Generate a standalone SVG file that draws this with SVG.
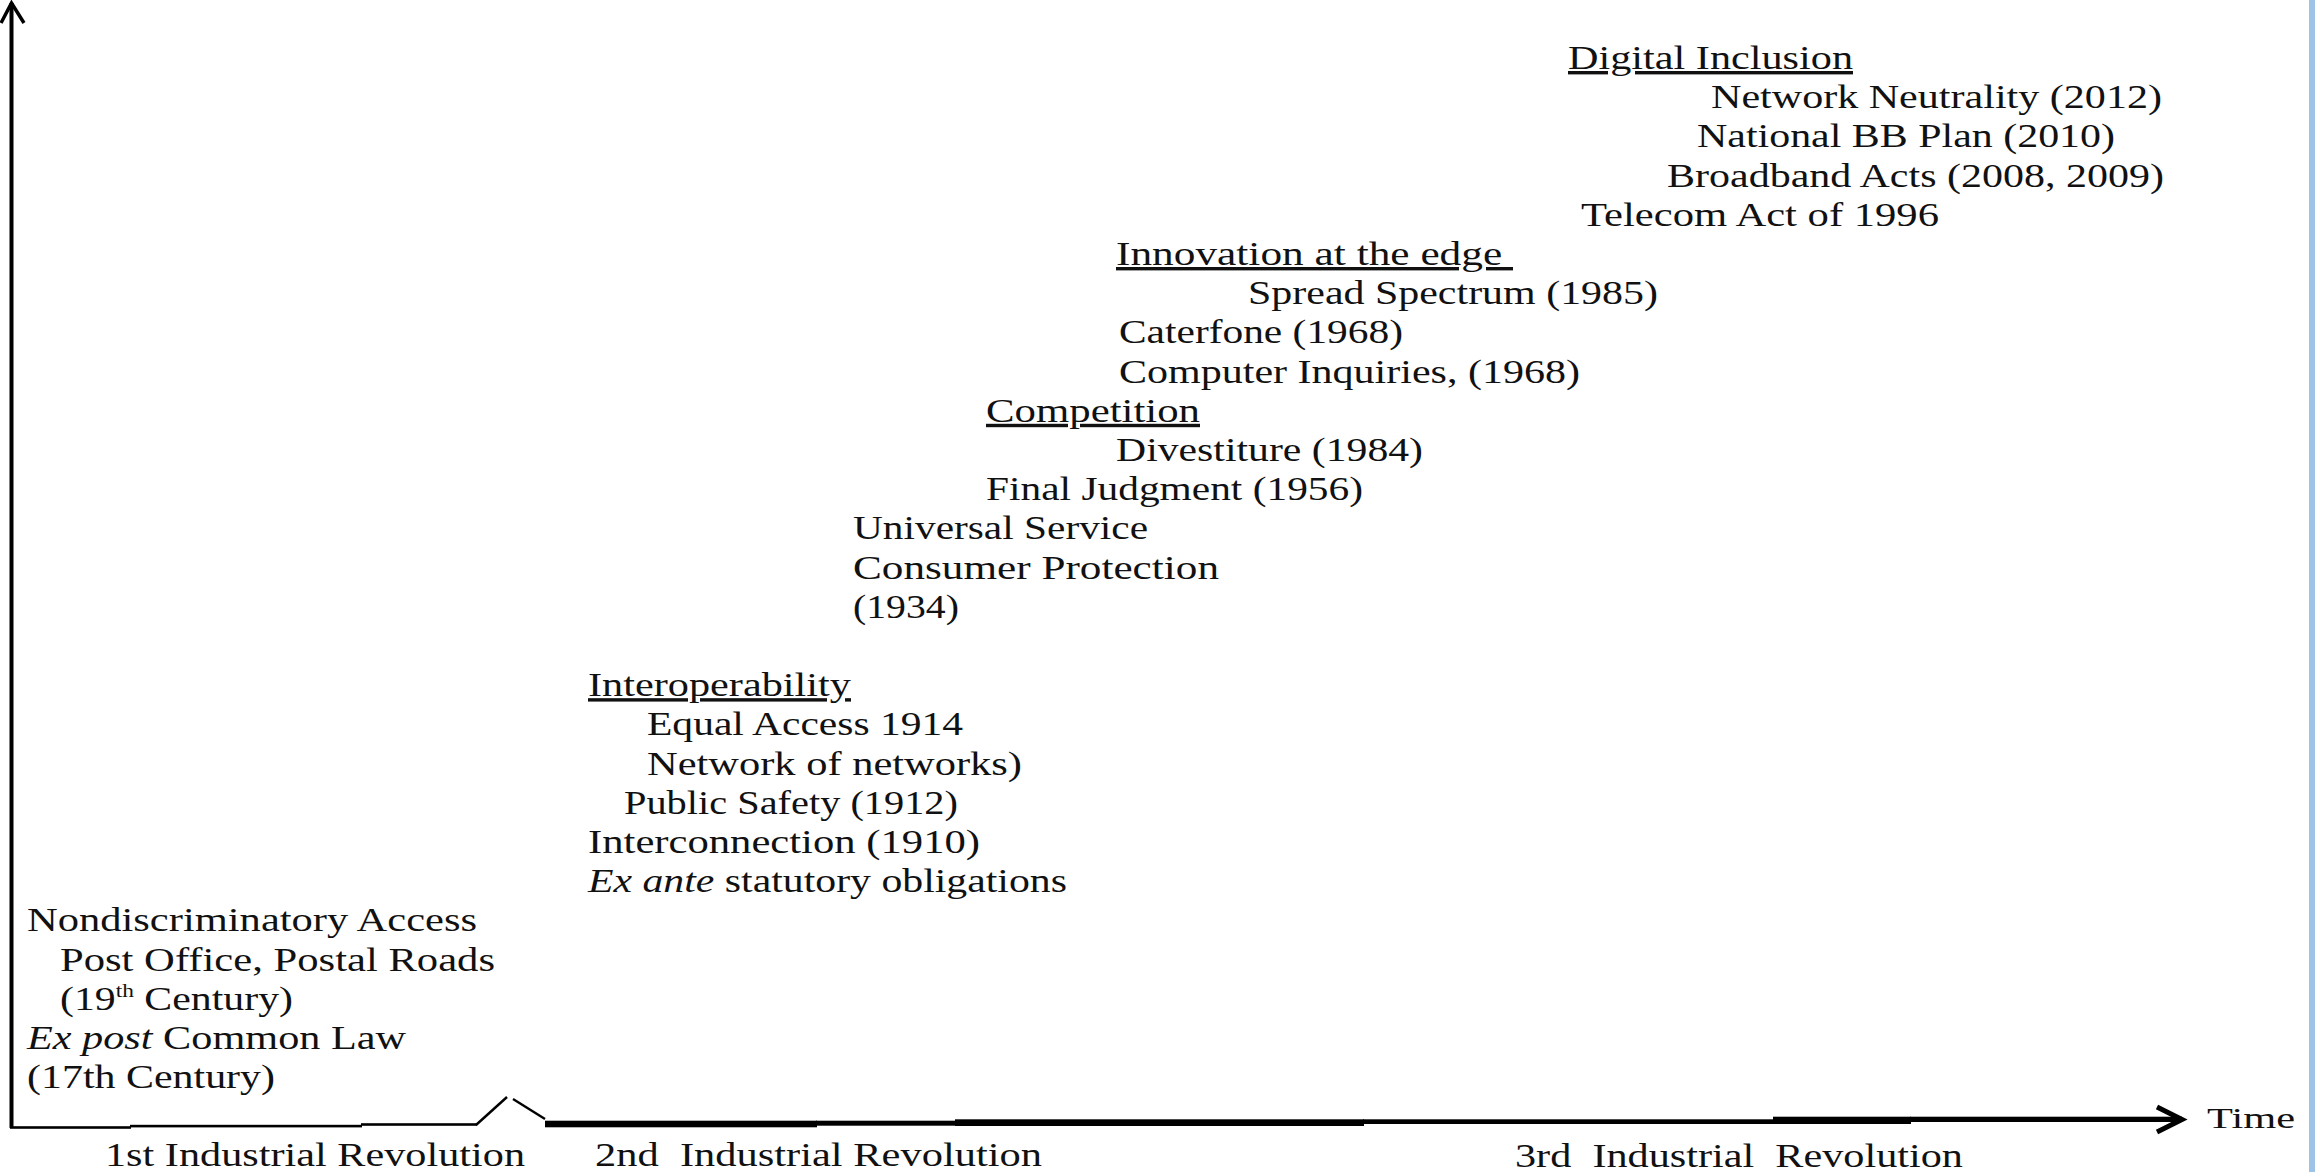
<svg xmlns="http://www.w3.org/2000/svg" width="2315" height="1172" viewBox="0 0 2315 1172">
  <style>
    .t { font-family: "Liberation Serif", "Times New Roman", serif; font-size: 34px; fill: #111; white-space: pre; }
    .s { font-size: 30px; }
    .u { text-decoration: underline; }
    .i { font-style: italic; }
    .sup { font-size: 19px; }
    .ax { fill: #000; }
    .axl { fill: none; stroke: #000; stroke-linecap: butt; stroke-linejoin: miter; }
  </style>

  <rect x="0" y="0" width="2315" height="1172" fill="#fff"/>
  <!-- slide edge band -->
  <rect x="2309" y="0" width="6" height="1172" fill="#9dc3e6"/>

  <!-- axes -->
  <g id="connectors">
    <!-- vertical axis with open arrowhead -->
    <line class="axl" x1="11.5" y1="1128" x2="11.5" y2="3" stroke-width="4"/>
    <polyline class="axl" points="1,23 11.5,3 24,23" stroke-width="3.5"/>
    <!-- horizontal time axis, drawn in stepped strokes -->
    <rect class="ax" x="10" y="1126.2" width="121" height="2.6"/>
    <rect class="ax" x="130" y="1124.8" width="232" height="2.6"/>
    <rect class="ax" x="361" y="1123.2" width="116" height="2.6"/>
    <polyline class="axl" points="476,1125 507,1097" stroke-width="2.4"/>
    <polyline class="axl" points="513,1099 545,1119" stroke-width="2.4"/>
    <rect class="ax" x="545" y="1120.7" width="272" height="6.6"/>
    <rect class="ax" x="816" y="1120.7" width="140" height="5"/>
    <rect class="ax" x="955" y="1119.3" width="409" height="6.7"/>
    <rect class="ax" x="1363" y="1119.3" width="411" height="4.7"/>
    <rect class="ax" x="1773" y="1116.7" width="138" height="7.3"/>
    <rect class="ax" x="1910" y="1116.7" width="272" height="5.3"/>
    <polyline class="axl" points="2157,1107 2182,1119.5 2157,1132" stroke-width="5"/>
  </g>

  <g id="era-digital-inclusion">
    <text class="t u" x="1568" y="69" textLength="285" lengthAdjust="spacingAndGlyphs">Digital Inclusion</text>
    <text class="t" x="1711" y="108.2" textLength="451" lengthAdjust="spacingAndGlyphs">Network Neutrality (2012)</text>
    <text class="t" x="1697" y="147.4" textLength="418" lengthAdjust="spacingAndGlyphs">National BB Plan (2010)</text>
    <text class="t" x="1667" y="186.6" textLength="497" lengthAdjust="spacingAndGlyphs">Broadband Acts (2008, 2009)</text>
    <text class="t" x="1581" y="225.8" textLength="358" lengthAdjust="spacingAndGlyphs">Telecom Act of 1996</text>
  </g>

  <g id="era-innovation">
    <text class="t u" x="1116" y="265" textLength="397" lengthAdjust="spacingAndGlyphs">Innovation at the edge </text>
    <text class="t" x="1248" y="304.2" textLength="410" lengthAdjust="spacingAndGlyphs">Spread Spectrum (1985)</text>
    <text class="t" x="1119" y="343.4" textLength="284" lengthAdjust="spacingAndGlyphs">Caterfone (1968)</text>
    <text class="t" x="1119" y="382.6" textLength="461" lengthAdjust="spacingAndGlyphs">Computer Inquiries, (1968)</text>
  </g>

  <g id="era-competition">
    <text class="t u" x="986" y="421.8" textLength="214" lengthAdjust="spacingAndGlyphs">Competition</text>
    <text class="t" x="1116" y="461" textLength="307" lengthAdjust="spacingAndGlyphs">Divestiture (1984)</text>
    <text class="t" x="986" y="500.2" textLength="377" lengthAdjust="spacingAndGlyphs">Final Judgment (1956)</text>
  </g>

  <g id="era-universal-service">
    <text class="t" x="853" y="539.4" textLength="295" lengthAdjust="spacingAndGlyphs">Universal Service</text>
    <text class="t" x="853" y="578.6" textLength="366" lengthAdjust="spacingAndGlyphs">Consumer Protection</text>
    <text class="t" x="853" y="617.8" textLength="106" lengthAdjust="spacingAndGlyphs">(1934)</text>
  </g>

  <g id="era-interoperability">
    <text class="t u" x="588" y="696.2" textLength="263" lengthAdjust="spacingAndGlyphs">Interoperability</text>
    <text class="t" x="647" y="735.4" textLength="316" lengthAdjust="spacingAndGlyphs">Equal Access 1914</text>
    <text class="t" x="647" y="774.6" textLength="375" lengthAdjust="spacingAndGlyphs">Network of networks)</text>
    <text class="t" x="624" y="813.8" textLength="334" lengthAdjust="spacingAndGlyphs">Public Safety (1912)</text>
    <text class="t" x="588" y="853" textLength="392" lengthAdjust="spacingAndGlyphs">Interconnection (1910)</text>
    <text class="t" x="588" y="892.2" textLength="479" lengthAdjust="spacingAndGlyphs"><tspan class="i">Ex ante</tspan> statutory obligations</text>
  </g>

  <g id="era-common-law">
    <text class="t" x="27" y="931.4" textLength="450" lengthAdjust="spacingAndGlyphs">Nondiscriminatory Access</text>
    <text class="t" x="60" y="970.6" textLength="435" lengthAdjust="spacingAndGlyphs">Post Office, Postal Roads</text>
    <text class="t" x="60" y="1009.8" textLength="233" lengthAdjust="spacingAndGlyphs">(19<tspan class="sup" dy="-13">th</tspan><tspan dy="13"> Century)</tspan></text>
    <text class="t" x="27" y="1049" textLength="379" lengthAdjust="spacingAndGlyphs"><tspan class="i">Ex post</tspan> Common Law</text>
    <text class="t" x="27" y="1088.2" textLength="248" lengthAdjust="spacingAndGlyphs">(17th Century)</text>
  </g>

  <g id="axis-labels">
    <text class="t s" x="2207" y="1127.5" textLength="88" lengthAdjust="spacingAndGlyphs">Time</text>
    <text class="t" x="105" y="1166" textLength="420" lengthAdjust="spacingAndGlyphs">1st Industrial Revolution</text>
    <text class="t" x="595" y="1166" textLength="447" lengthAdjust="spacingAndGlyphs">2nd  Industrial Revolution</text>
    <text class="t" x="1515" y="1167" textLength="448" lengthAdjust="spacingAndGlyphs">3rd  Industrial  Revolution</text>
  </g>
</svg>
